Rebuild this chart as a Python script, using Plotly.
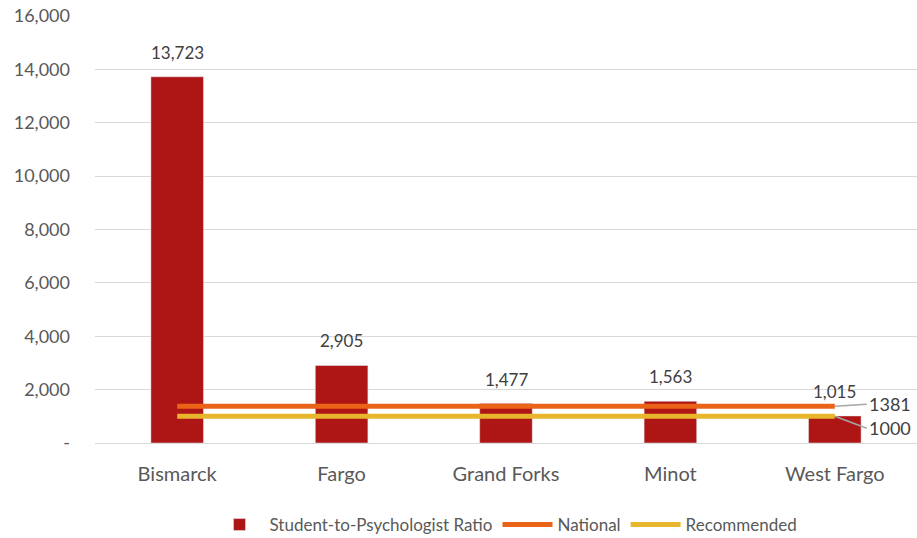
import plotly.graph_objects as go

categories = ["Bismarck", "Fargo", "Grand Forks", "Minot", "West Fargo"]
ratio = [13723, 2905, 1477, 1563, 1015]
national = [1381] * 5
recommended = [1000] * 5
tick_vals = [0, 2000, 4000, 6000, 8000, 10000, 12000, 14000, 16000]
tick_text = ["-", "2,000", "4,000", "6,000", "8,000", "10,000", "12,000", "14,000", "16,000"]

FONT = "Lato"
fig = go.Figure()
fig.add_trace(go.Bar(
    x=categories, y=ratio, name="Student-to-Psychologist Ratio",
    marker_color="#AE1616", width=0.32,
))
fig.add_trace(go.Scatter(
    x=categories, y=national, name="National", mode="lines",
    line=dict(color="#EA6418", width=5),
))
fig.add_trace(go.Scatter(
    x=categories, y=recommended, name="Recommended", mode="lines",
    line=dict(color="#E8B62C", width=5),
))

for c, v in zip(categories, ratio):
    fig.add_annotation(x=c, y=v, text=f"{v:,}", showarrow=False,
                       yanchor="bottom", yshift=12,
                       font=dict(size=17, color="#404040", family=FONT))

fig.add_annotation(x=categories[-1], y=national[-1], text=str(national[-1]),
                   showarrow=True, arrowhead=0, arrowcolor="#A6A6A6", arrowwidth=1.5,
                   ax=32, ay=-2, xanchor="left",
                   font=dict(size=18, color="#404040", family=FONT))
fig.add_annotation(x=categories[-1], y=recommended[-1], text=str(recommended[-1]),
                   showarrow=True, arrowhead=0, arrowcolor="#A6A6A6", arrowwidth=1.5,
                   ax=32, ay=12, xanchor="left",
                   font=dict(size=18, color="#404040", family=FONT))

fig.update_layout(
    width=917, height=538,
    margin=dict(l=95, r=0, t=16, b=95, autoexpand=False),
    plot_bgcolor="white", paper_bgcolor="white",
    font=dict(family=FONT, color="#595959"),
    showlegend=True,
    legend=dict(orientation="h", x=0.5, xanchor="center", y=-0.192, yanchor="middle",
                font=dict(size=17, color="#595959", family=FONT), traceorder="normal",
                itemwidth=50),
    xaxis=dict(tickfont=dict(size=20, color="#595959"), showline=False, showgrid=False,
               ticks="", ticklabelstandoff=17),
    yaxis=dict(range=[0, 16000], tickvals=tick_vals, ticktext=tick_text,
               tickfont=dict(size=18, color="#595959"),
               showgrid=True, gridcolor="#D9D9D9", gridwidth=1,
               zeroline=True, zerolinecolor="#D9D9D9", zerolinewidth=1,
               ticks="", ticklabelstandoff=24),
)
fig.write_html("out.html", config={"displayModeBar": False},
               post_script="document.body.style.margin='0';document.body.style.overflow='hidden';")
